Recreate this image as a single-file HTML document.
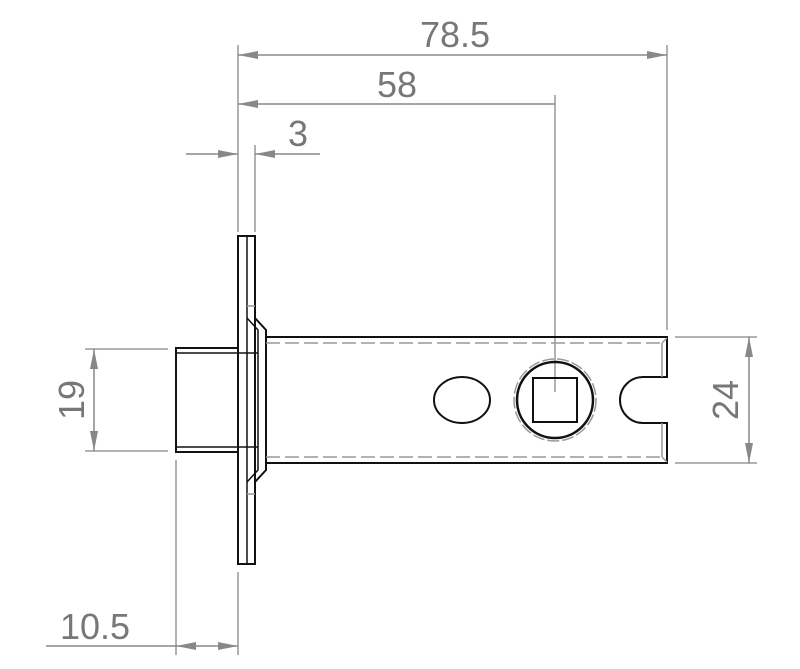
<!DOCTYPE html>
<html><head><meta charset="utf-8"><style>
html,body{margin:0;padding:0;background:#fff;}
svg{display:block;}
text{font-family:"Liberation Sans",sans-serif;fill:#777;font-size:36px;}
</style></head><body>
<svg width="800" height="669" viewBox="0 0 800 669" xmlns="http://www.w3.org/2000/svg">
<defs>
<marker id="a" viewBox="0 0 20 8" refX="20" refY="4" markerWidth="20" markerHeight="8" markerUnits="userSpaceOnUse" orient="auto-start-reverse"><path d="M0,0 L20,4 L0,8 z" fill="#888"/></marker>
</defs>
<g stroke="#999" stroke-width="1.5" fill="none">
<line x1="238" y1="45" x2="238" y2="232"/>
<line x1="255" y1="145" x2="255" y2="232"/>
<line x1="555" y1="95" x2="555" y2="392"/>
<line x1="667" y1="45" x2="667" y2="330"/>
<line x1="85" y1="349" x2="168" y2="349"/>
<line x1="85" y1="451" x2="168" y2="451"/>
<line x1="675" y1="337" x2="757" y2="337"/>
<line x1="675" y1="463" x2="757" y2="463"/>
<line x1="176" y1="460" x2="176" y2="655"/>
<line x1="238" y1="572" x2="238" y2="655"/>
</g>
<g stroke="#888" stroke-width="1.5" fill="none">
<line x1="238" y1="55" x2="667" y2="55" marker-start="url(#a)" marker-end="url(#a)"/>
<line x1="238" y1="104" x2="555" y2="104" marker-start="url(#a)"/>
<line x1="186" y1="154" x2="238" y2="154" marker-end="url(#a)"/>
<line x1="320" y1="154" x2="255" y2="154" marker-end="url(#a)"/>
<line x1="94" y1="349" x2="94" y2="451" marker-start="url(#a)" marker-end="url(#a)"/>
<line x1="749" y1="337" x2="749" y2="463" marker-start="url(#a)" marker-end="url(#a)"/>
<line x1="46" y1="646" x2="176" y2="646"/>
<line x1="207" y1="646" x2="176" y2="646" marker-end="url(#a)"/>
<line x1="207" y1="646" x2="238" y2="646" marker-end="url(#a)"/>
</g>
<text x="455" y="47" text-anchor="middle">78.5</text>
<text x="397" y="97" text-anchor="middle">58</text>
<text x="298" y="146" text-anchor="middle">3</text>
<text x="95" y="639" text-anchor="middle">10.5</text>
<text transform="translate(84,400) rotate(-90)" text-anchor="middle">19</text>
<text transform="translate(738,400) rotate(-90)" text-anchor="middle">24</text>

<g stroke="#111" stroke-width="2" fill="none">
<rect x="176" y="348" width="62" height="104"/>
<line x1="176" y1="353" x2="258" y2="353" stroke-width="1.5"/>
<line x1="176" y1="447" x2="258" y2="447" stroke-width="1.5"/>
<rect x="238" y="236" width="17" height="328"/>
<line x1="247" y1="236" x2="247" y2="564" stroke-width="1.5"/>
<path d="M255,306 L255,318 L266,330 L266,470 L255,482 L255,494"/>
<path d="M247,318 L258,330 L258,470 L247,482" stroke-width="1.5"/>
<path d="M266,337 L667,337 L667,377 L643,377 A23,23 0 0 0 643,423 L667,423 L667,463 L266,463"/>
<ellipse cx="462" cy="400" rx="28" ry="23"/>
<circle cx="555" cy="400" r="38" stroke-width="2.5"/>
<rect x="533" y="378" width="44" height="44"/>
</g>
<g stroke="#999" stroke-width="1.5" fill="none">
<line x1="266" y1="343" x2="662" y2="343" stroke-dasharray="14,5"/>
<line x1="266" y1="457" x2="662" y2="457" stroke-dasharray="14,5"/>
<line x1="662" y1="343" x2="662" y2="377"/>
<line x1="662" y1="423" x2="662" y2="457"/>
<line x1="662" y1="343" x2="667" y2="338"/>
<line x1="662" y1="457" x2="667" y2="462"/>
<circle cx="555" cy="400" r="41" stroke-dasharray="12,3"/>
<line x1="255" y1="306" x2="247" y2="306"/>
<line x1="255" y1="494" x2="247" y2="494"/>
</g>
</svg>
</body></html>
